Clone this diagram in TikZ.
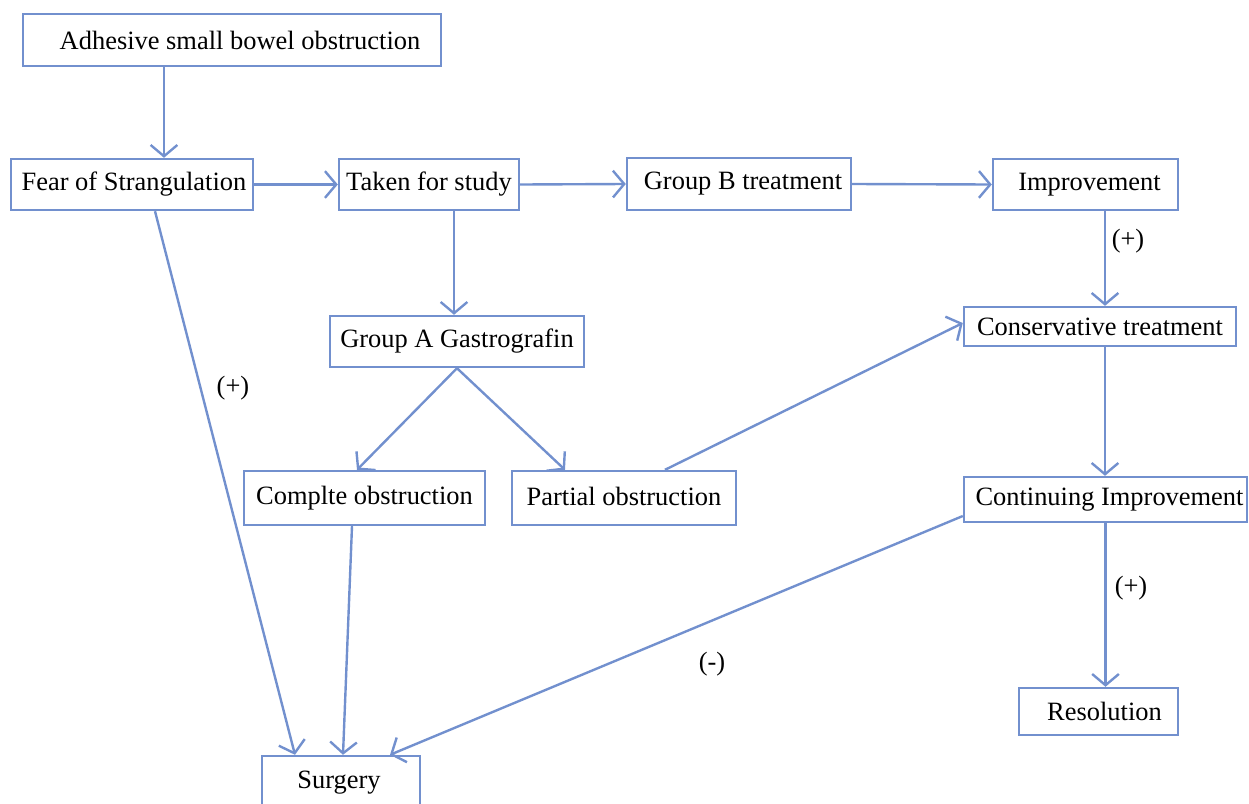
\documentclass[tikz,border=0pt]{standalone}
\usepackage{fontspec}
\setmainfont{Liberation Serif}
\usetikzlibrary{arrows.meta,calc}
\definecolor{boxblue}{RGB}{114,144,206}
\tikzset{
  stepbox/.style={
    draw=boxblue,
    line width=1.7pt,
    inner sep=0pt,
    font=\fontsize{18.8}{22}\selectfont,
    text=black
  },
  flowarrow/.style={
    draw=boxblue,
    line width=1.7pt,
    -{Straight Barb[length=8pt,width=19pt]}
  },
  signlabel/.style={
    font=\fontsize{18.8}{22}\selectfont,
    text=black
  }
}

\begin{document}
\begin{tikzpicture}[x=0.025cm,y=-0.025cm]

  % Page frame in pixel units of the original chart.
  \useasboundingbox (0,0) rectangle (1249,803);

  % Boxes of the flow chart.
  \node[stepbox,minimum width=10.45cm,minimum height=1.30cm] (adh)   at (232,40)
    {\hspace*{0.4cm}Adhesive small bowel obstruction};
  \node[stepbox,minimum width=6.05cm,minimum height=1.275cm] (fear)  at (132,184.5)
    {\hspace*{0.1cm}Fear of Strangulation};
  \node[stepbox,minimum width=4.50cm,minimum height=1.275cm] (taken) at (429,184.5)
    {Taken for study};
  \node[stepbox,minimum width=5.60cm,minimum height=1.30cm] (grpb)  at (739,184)
    {\hspace*{0.2cm}Group B treatment};
  \node[stepbox,minimum width=4.625cm,minimum height=1.275cm] (impr) at (1085.5,184.5)
    {\hspace*{0.2cm}Improvement};
  \node[stepbox,minimum width=6.35cm,minimum height=1.275cm] (grpa)  at (457,341.5)
    {Group A Gastrografin};
  \node[stepbox,minimum width=6.80cm,minimum height=0.975cm] (cons)  at (1100,326.5)
    {Conservative treatment};
  \node[stepbox,minimum width=6.025cm,minimum height=1.35cm] (compl) at (364.5,498)
    {Complte obstruction};
  \node[stepbox,minimum width=5.60cm,minimum height=1.35cm] (part)  at (624,498)
    {\raisebox{0.1cm}{Partial obstruction}};
  \node[stepbox,minimum width=7.075cm,minimum height=1.125cm] (cont)  at (1105.5,499.5)
    {\hspace*{0.2cm}Continuing Improvement};
  \node[stepbox,minimum width=3.975cm,minimum height=1.175cm] (reso)  at (1098.5,711.5)
    {\hspace*{0.3cm}Resolution};
  \node[stepbox,minimum width=3.95cm,minimum height=1.30cm,text depth=0pt]
    (surg) at (341,782) {\raisebox{0.1cm}{Surgery}\hspace*{0.1cm}};

  % Top row and its feeders.
  \draw[flowarrow] ([xshift=-1.7cm]adh.south) -- ([xshift=-1.7cm]adh.south |- fear.north);
  \draw[flowarrow] (fear.east) -- (taken.west);
  \draw[flowarrow] (taken.east) -- (grpb.west);
  \draw[flowarrow] (grpb.east) -- (impr.west);

  % Gastrografin branch.
  \draw[flowarrow] ([xshift=0.625cm]taken.south) -- ([xshift=0.625cm]taken.south |- grpa.north);
  \draw[flowarrow] (grpa.south) -- ([xshift=-0.1875cm]compl.north);
  \draw[flowarrow] (grpa.south) -- ([xshift=-1.475cm]part.north);
  \draw[flowarrow] ([xshift=1.025cm]part.north) -- ([yshift=0.0875cm]cons.west);

  % Conservative branch on the right.
  \draw[flowarrow] ([xshift=0.4875cm]impr.south) -- ([xshift=0.4875cm]impr.south |- cons.north);
  \draw[flowarrow] ([xshift=0.125cm]cons.south) -- ([xshift=0.125cm]cons.south |- cont.north);
  \draw[flowarrow] (cont.south) -- (cont.south |- reso.north);

  % Paths that end in surgery.
  \draw[flowarrow] ([xshift=0.575cm]fear.south) -- ([xshift=-1.15cm]surg.north);
  \draw[flowarrow] ([xshift=-0.3125cm]compl.south) -- ([xshift=0.05cm]surg.north);
  \draw[flowarrow] ([yshift=-0.4125cm]cont.west) -- ([xshift=1.225cm]surg.north);

  % Signs beside the connectors.
  \node[signlabel] (plusfear) at (233,388) {(+)};
  \node[signlabel] (plusimpr) at (1128,241) {(+)};
  \node[signlabel] (pluscont) at (1131,588) {(+)};
  \node[signlabel] (minuscont) at (712,664) {(-)};

\end{tikzpicture}
\end{document}
